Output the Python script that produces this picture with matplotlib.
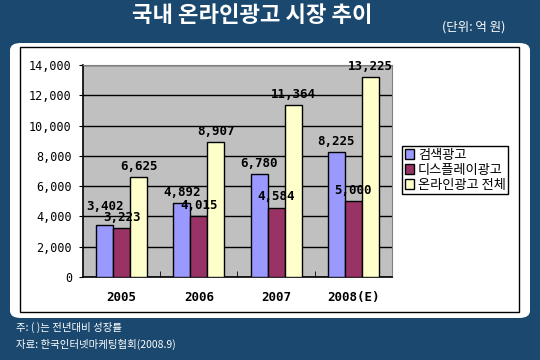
import matplotlib.pyplot as plt
from matplotlib.patches import FancyBboxPatch, Rectangle
import numpy as np

# 국내 온라인광고 시장 추이 (단위: 억 원)
years = ["2005", "2006", "2007", "2008(E)"]
search_ad = [3402, 4892, 6780, 8225]
display_ad = [3223, 4015, 4584, 5000]
online_total = [6625, 8907, 11364, 13225]
series_names = ["검색광고", "디스플레이광고", "온라인광고 전체"]
series_colors = ["#9999FF", "#993366", "#FFFFCC"]

kr = ["Noto Sans CJK KR", "DejaVu Sans"]
mono = "DejaVu Sans Mono"

fig = plt.figure(figsize=(5.4, 3.6), dpi=100)
fig.patch.set_facecolor("#1a486e")

# weisse Tafel mit runden Ecken
panel = FancyBboxPatch((10/540, 1-318/360), 520/540, 275/360,
                       boxstyle="round,pad=0,rounding_size=0.02",
                       transform=fig.transFigure, facecolor="white",
                       edgecolor="none", zorder=-2)
fig.patches.append(panel)
frame = Rectangle((20/540, 1-312/360), 499/540, 265/360,
                  transform=fig.transFigure, facecolor="none",
                  edgecolor="black", linewidth=1, zorder=-1)
fig.patches.append(frame)

ax = fig.add_axes([83/540, 1-277/360, 309/540, 212/360])
ax.set_zorder(2)
ax.set_facecolor("#C0C0C0")

x = np.arange(len(years))
w = 0.22
alle = [search_ad, display_ad, online_total]
for k, (vals, name, col) in enumerate(zip(alle, series_names, series_colors)):
    pos = x + (k - 1) * w
    ax.bar(pos, vals, w, color=col, edgecolor="black", linewidth=1,
           label=name, zorder=3)
    for i, (px, v) in enumerate(zip(pos, vals)):
        # erster Wert etwas hoeher, wie im Original
        dy = 9 if (k == 0 and i == 0) else 3
        ax.annotate("{:,}".format(v), (px, v), xytext=(0, dy),
                    textcoords="offset points", ha="center", va="bottom",
                    fontsize=9, fontweight="bold", family=mono, zorder=5)

ax.set_xlim(-0.5, 3.5)
ax.set_ylim(0, 14000)
ax.set_yticks(range(0, 14001, 2000))
ax.set_yticklabels(["{:,}".format(t) for t in range(0, 14001, 2000)],
                   family=mono, fontsize=8.5)
ax.yaxis.grid(True, color="black", linewidth=1, zorder=1)
ax.set_axisbelow(True)
ax.set_xticks(x)
ax.set_xticklabels(years, fontsize=9, fontweight="bold", family=mono)
ax.set_xticks([0.5, 1.5, 2.5], minor=True)
ax.tick_params(axis="x", which="major", length=0, pad=10)
ax.tick_params(axis="x", which="minor", length=4, direction="in")
ax.tick_params(axis="y", length=3, pad=5)

for s in ["top", "right"]:
    ax.spines[s].set_color("#808080")
for s in ["left", "bottom"]:
    ax.spines[s].set_color("black")
    ax.spines[s].set_linewidth(1.2)

leg = ax.legend(loc="upper left", bbox_to_anchor=(402/540, 1-146/360),
                bbox_transform=fig.transFigure, borderaxespad=0,
                prop={"family": kr, "size": 9.5}, fancybox=False,
                framealpha=1, edgecolor="black", handlelength=0.7,
                handleheight=0.7, handletextpad=0.3, labelspacing=0.15,
                borderpad=0.2)
leg.get_frame().set_linewidth(1)

fig.text(252/540, 1-16/360, "국내 온라인광고 시장 추이", color="white",
         fontsize=16, fontweight="bold", family=kr, ha="center", va="center")
fig.text(474/540, 1-27/360, "(단위: 억 원)", color="white", fontsize=9,
         family=kr, ha="center", va="center")
fig.text(16/540, 1-327/360, "주: ( )는 전년대비 성장률", color="white",
         fontsize=7.5, family=kr, ha="left", va="center")
fig.text(16/540, 1-344/360, "자료: 한국인터넷마케팅협회(2008.9)", color="white",
         fontsize=7.5, family=kr, ha="left", va="center")

fig.savefig("out.png", dpi=100, facecolor=fig.get_facecolor())
